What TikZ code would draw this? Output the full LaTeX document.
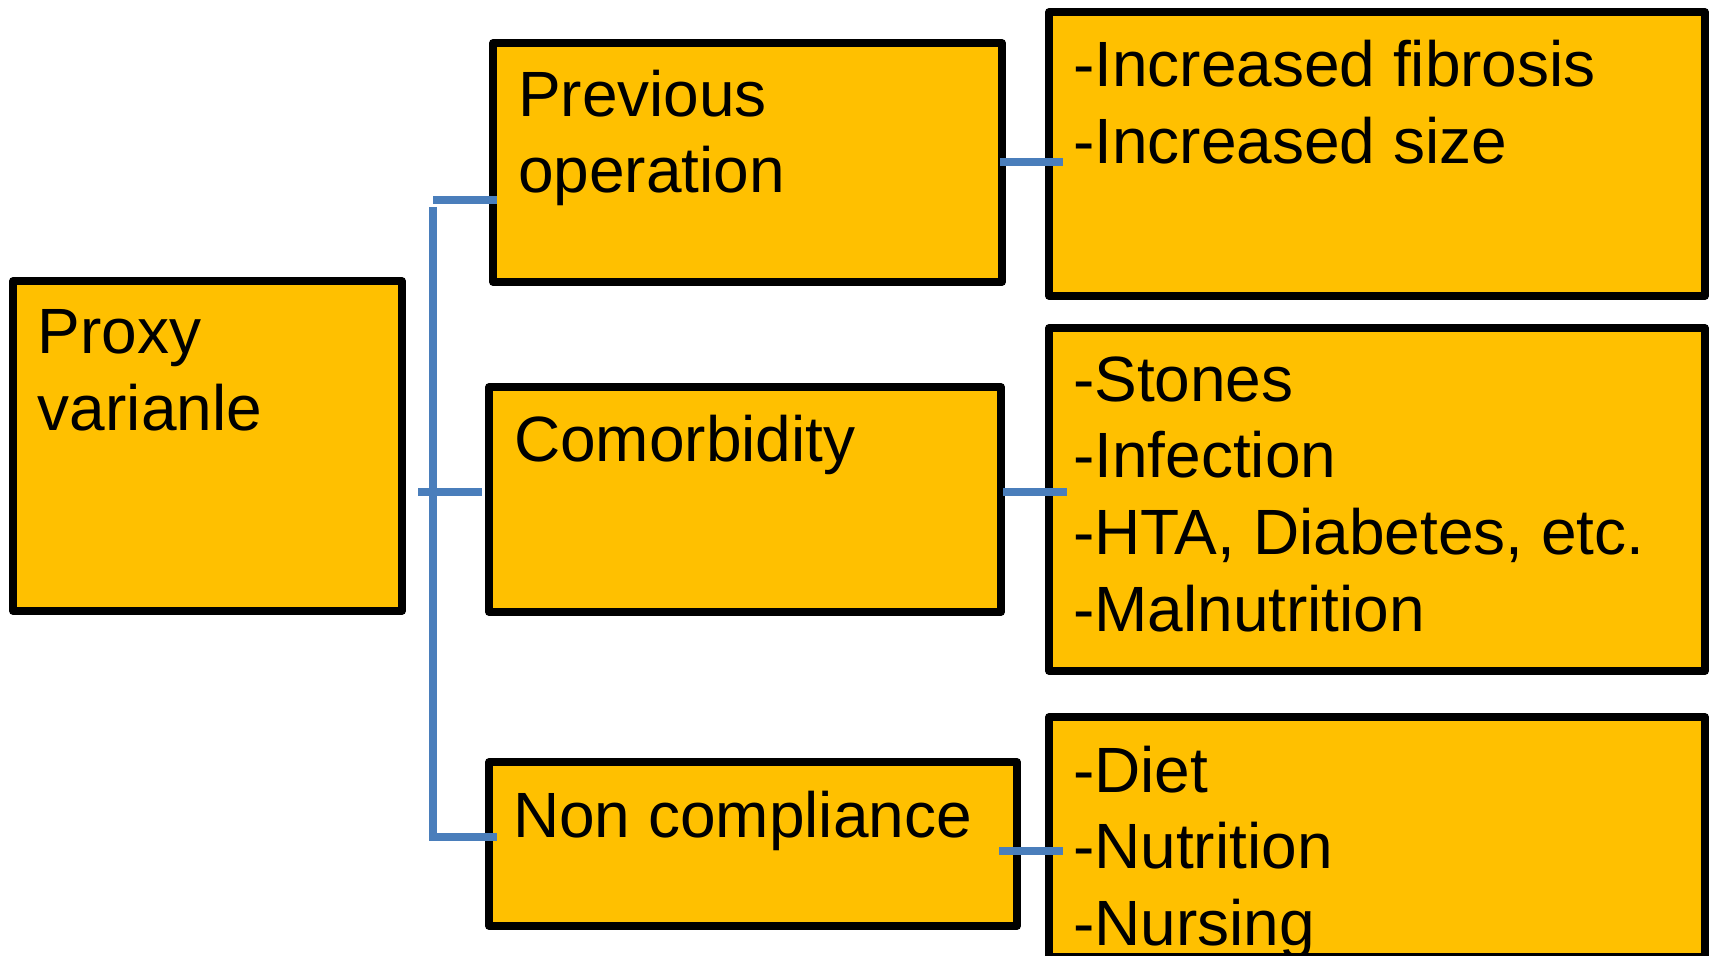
\documentclass[tikz,border=0pt]{standalone}
\usepackage{fontspec}
\setmainfont{Liberation Sans}
\definecolor{boxgold}{HTML}{FFC000}
\definecolor{linkblue}{HTML}{4A7EBB}
\begin{document}
\begin{tikzpicture}[x=0.5pt,y=-0.5pt,
  box/.style={draw=black, fill=boxgold, line width=3.75pt, line join=round,
    rectangle, inner sep=0pt, outer sep=0pt},
  link/.style={draw=linkblue, line width=4pt},
  txt/.style={anchor=base west, inner sep=0pt, outer sep=0pt,
    font=\fontsize{32}{38}\selectfont}]
\useasboundingbox (0,0) rectangle (1709,956);

% boxes
\node[box, minimum width=194.5pt, minimum height=165pt]   (proxy)   at (207.5,446) {};
\node[box, minimum width=254.5pt, minimum height=119.5pt] (prev)    at (747.5,162.5) {};
\node[box, minimum width=256pt,   minimum height=112.5pt] (comorb)  at (745,499.5) {};
\node[box, minimum width=264pt,   minimum height=82pt]    (noncomp) at (753,844) {};
\node[box, minimum width=328pt,   minimum height=142pt]   (r1)      at (1377,154) {};
\node[box, minimum width=328pt,   minimum height=171.5pt] (r2)      at (1377,499.5) {};
\node[box, minimum width=328pt,   minimum height=120pt]   (r3)      at (1377,837) {};

% connectors
\coordinate (jt) at (433,207);
\coordinate (jb) at (433,837);
\coordinate (jp) at (433,200);
\coordinate (jm) at (418,492);
\coordinate (rp) at (1000,162);
\coordinate (rc) at (1003,492);
\coordinate (rn) at (999,851);
\draw[link] (jt) -- (jb) -- ([xshift=4pt]jb -| noncomp.west);
\draw[link] (jp) -- ([xshift=2pt]jp -| prev.west);
\draw[link] (jm) -- ([xshift=-3.5pt]jm -| comorb.west);
\draw[link] (rp) -- ([xshift=7pt]rp -| r1.west);
\draw[link] (rc) -- ([xshift=9pt]rc -| r2.west);
\draw[link] (rn) -- ([xshift=7pt]rn -| r3.west);

% texts
\node[txt] (proxyA) at (38,354) {Proxy};
\node[txt] (proxyB) at (38,431) {varianle};
\node[txt] (prevA) at (518,117) {Previous};
\node[txt] (prevB) at (518,193) {operation};
\node[txt] (comorbA) at (514,462) {Comorbidity};
\node[txt] (noncompA) at (513,837) {Non compliance};
\node[txt] (r1a) at (1073,87) {-Increased fibrosis};
\node[txt] (r1b) at (1073,164) {-Increased size};
\node[txt] (r2a) at (1073,402) {-Stones};
\node[txt] (r2b) at (1073,478) {-Infection};
\node[txt] (r2c) at (1073,555) {-HTA, Diabetes, etc.};
\node[txt] (r2d) at (1073,632) {-Malnutrition};
\node[txt] (r3a) at (1073,792) {-Diet};
\node[txt] (r3b) at (1073,868) {-Nutrition};
\node[txt] (r3c) at (1073,945) {-Nursing};
\end{tikzpicture}
\end{document}
